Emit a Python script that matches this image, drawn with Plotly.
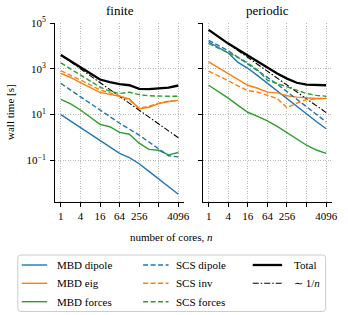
import plotly.graph_objects as go

# ---------------- data ----------------
cores = [1, 2, 4, 8, 16, 32, 64, 128, 256, 512, 1024, 2048, 4096]
x_tickvals = [1, 4, 16, 64, 256, 4096]
x_ticktext = ["1", "4", "16", "64", "256", "4096"]
x_minor_tickvals = [1024]
y_tickvals = [1e-1, 1e1, 1e3, 1e5]
y_ticktext = ["10<sup>\u22121</sup>", "10<sup>1</sup>", "10<sup>3</sup>", "10<sup>5</sup>"]

# finite
fin_mbd_dipole = [10, 5.25, 2.69, 1.38, 0.724, 0.380, 0.200, 0.132, 0.0708, 0.0331, 0.0158, 0.00724, 0.00331]
fin_mbd_eig = [631, 417, 251, 151, 93.3, 75.9, 63.1, 47.9, 17.8, 20.9, 30.2, 37.2, 41.7]
fin_mbd_forces = [45.7, 29.5, 15.8, 7.59, 3.72, 2.95, 1.66, 1.38, 0.562, 0.302, 0.275, 0.174, 0.219]
fin_scs_dipole = [229, 117, 60.3, 30.9, 15.8, 7.94, 4.17, 2.29, 1.26, 0.631, 0.316, 0.158, 0.141]
fin_scs_inv = [832, 525, 331, 200, 120, 89.1, 66.1, 41.7, 19.1, 22.9, 31.6, 38.0, 41.7]
fin_scs_forces = [1820, 1000, 525, 282, 158, 105, 83.2, 95.5, 74.1, 66.1, 63.1, 63.1, 63.1]
fin_total = [3980, 2140, 1120, 603, 339, 263, 214, 191, 132, 129, 135, 151, 186]
fin_ideal = [3980, 1990, 995, 498, 249, 124, 62.2, 31.1, 15.5, 7.77, 3.89, 1.94, 0.97]

# periodic
per_mbd_dipole = [14800, 8510, 4900, 1910, 1050, 501, 229, 107, 50.1, 22.9, 10.5, 5.01, 2.40]
per_mbd_eig = [2000, 1120, 631, 355, 191, 141, 95.5, 89.1, 66.1, 57.5, 52.5, 50.1, 50.1]
per_mbd_forces = [191, 100, 52.5, 25.1, 12.6, 8.32, 5.25, 3.02, 1.58, 0.832, 0.457, 0.282, 0.200]
per_scs_dipole = [17400, 10000, 6170, 3160, 1620, 891, 447, 214, 100, 46.8, 21.4, 10.0, 4.79]
per_scs_inv = [794, 501, 302, 178, 112, 95.5, 70.8, 50.1, 20.0, 31.6, 44.7, 50.1, 52.5]
per_scs_forces = [12600, 7940, 5250, 3160, 1780, 891, 316, 224, 158, 112, 83.2, 69.2, 63.1]
per_total = [50100, 25100, 12600, 6920, 3800, 2090, 1120, 617, 372, 245, 204, 191, 191]
per_ideal = [50100, 25050, 12500, 6260, 3130, 1570, 783, 391, 196, 97.8, 48.9, 24.5, 12.2]

# ---------------- styles ----------------
BLUE, ORANGE, GREEN = "#1f77b4", "#ff7f0e", "#2ca02c"
DASH = "5px,2.5px"
DASHDOT = "6px,2px,1.5px,2px"
FONT = "Liberation Serif"

series = [
    ("MBD dipole", BLUE, "solid", 1.4),
    ("MBD eig", ORANGE, "solid", 1.4),
    ("MBD forces", GREEN, "solid", 1.4),
    ("SCS dipole", BLUE, DASH, 1.4),
    ("SCS inv", ORANGE, DASH, 1.4),
    ("SCS forces", GREEN, DASH, 1.4),
    ("Total", "black", "solid", 2.3),
    ("~1/n", "black", DASHDOT, 1.1),
]
fin_data = [fin_mbd_dipole, fin_mbd_eig, fin_mbd_forces, fin_scs_dipole,
            fin_scs_inv, fin_scs_forces, fin_total, fin_ideal]
per_data = [per_mbd_dipole, per_mbd_eig, per_mbd_forces, per_scs_dipole,
            per_scs_inv, per_scs_forces, per_total, per_ideal]

fig = go.Figure()
order = [7, 0, 1, 2, 3, 4, 5, 6]
for ax, data in (("", fin_data), ("2", per_data)):
    for i in order:
        name, col, dash, w = series[i]
        fig.add_trace(go.Scatter(
            x=cores, y=data[i], mode="lines", name=name, showlegend=False,
            line=dict(color=col, dash=dash, width=w),
            xaxis="x" + ax, yaxis="y" + ax))

# ---------------- layout ----------------
W, H = 348, 315
PL, PR, PT, PB = 55, 338, 23, 202          # plot area in pixels
ML, MR, MT, MB = PL, W - PR, PT, H - PB
PW, PH = PR - PL, PB - PT


def px(xp):
    return (xp - PL) / PW


def py(yp):
    return (PB - yp) / PH


xr = [-0.6 * 0.30103, 12.6 * 0.30103]
yr = [-2.82, 5]
axis_common = dict(
    type="log", showline=True, linecolor="black", linewidth=1.1,
    ticks="outside", ticklen=4, tickwidth=1, tickcolor="black",
    showgrid=True, gridcolor="#b8b8b8", gridwidth=0.8, griddash="1px,1.5px",
    zeroline=False, mirror=False, ticklabeloverflow="allow",
    tickfont=dict(family=FONT, size=11, color="black"),
)
xminor = dict(tickvals=x_minor_tickvals, ticks="outside", ticklen=4,
              tickwidth=1, tickcolor="black", showgrid=True,
              gridcolor="#b8b8b8", gridwidth=0.8, griddash="1px,1.5px")
fig.update_layout(
    width=W, height=H, margin=dict(l=ML, r=MR, t=MT, b=MB),
    paper_bgcolor="white", plot_bgcolor="white",
    font=dict(family=FONT, color="black"),
    xaxis=dict(axis_common, domain=[0, px(187)], range=xr,
               tickvals=x_tickvals, ticktext=x_ticktext, anchor="y",
               minor=xminor),
    xaxis2=dict(axis_common, domain=[px(206), 1], range=xr,
                tickvals=x_tickvals, ticktext=x_ticktext, anchor="y2",
                minor=xminor),
    yaxis=dict(axis_common, range=yr, tickvals=y_tickvals, ticktext=y_ticktext,
               anchor="x", ticklabelstandoff=2),
    yaxis2=dict(axis_common, range=yr, tickvals=y_tickvals, ticktext=y_ticktext,
                anchor="x2", showticklabels=False),
    showlegend=False,
)

ann = []


def label(text, x, y, size=11, xanchor="center", angle=0):
    ann.append(dict(text=text, x=px(x), y=py(y), xref="paper", yref="paper",
                    xanchor=xanchor, yanchor="middle", showarrow=False,
                    textangle=angle, font=dict(size=size, family=FONT)))


label("finite", 121, 10, size=13)
label("periodic", 272, 10, size=13)
label("number of cores, <i>n</i>", 174, 237)
label("wall time [s]", 9, 112, angle=-90)

# ---------------- manual legend ----------------
shapes = []
x0, x1, y0, y1, r = 17, 331.5, 255, 311.5, 3
path = (f"M {px(x0 + r)},{py(y0)} L {px(x1 - r)},{py(y0)} "
        f"Q {px(x1)},{py(y0)} {px(x1)},{py(y0 + r)} "
        f"L {px(x1)},{py(y1 - r)} Q {px(x1)},{py(y1)} {px(x1 - r)},{py(y1)} "
        f"L {px(x0 + r)},{py(y1)} Q {px(x0)},{py(y1)} {px(x0)},{py(y1 - r)} "
        f"L {px(x0)},{py(y0 + r)} Q {px(x0)},{py(y0)} {px(x0 + r)},{py(y0)} Z")
shapes.append(dict(type="path", path=path, xref="paper", yref="paper",
                   line=dict(color="#cccccc", width=1), fillcolor="white",
                   layer="below"))

rows_y = [265, 283.3, 301.7]
cols = [(21, 47, 55), (145, 171, 177), (257, 287, 297)]
labels = ["MBD dipole", "MBD eig", "MBD forces", "SCS dipole", "SCS inv",
          "SCS forces", "Total", "\u223c 1/<i>n</i>"]
for i, (name, col, dash, w) in enumerate(series):
    c, rr = divmod(i, 3)
    lx0, lx1, tx = cols[c]
    yy = rows_y[rr]
    shapes.append(dict(type="line", xref="paper", yref="paper",
                       x0=px(lx0), x1=px(lx1), y0=py(yy), y1=py(yy),
                       line=dict(color=col, dash=dash, width=w)))
    label(labels[i], tx, yy, xanchor="left")

fig.update_layout(annotations=ann, shapes=shapes)
# remove the browser's default 8px body margin so the figure fills the window
fig.write_html("out.html",
               config={"displayModeBar": False},
               post_script="document.body.style.margin='0';"
                           "document.body.style.overflow='hidden';")
